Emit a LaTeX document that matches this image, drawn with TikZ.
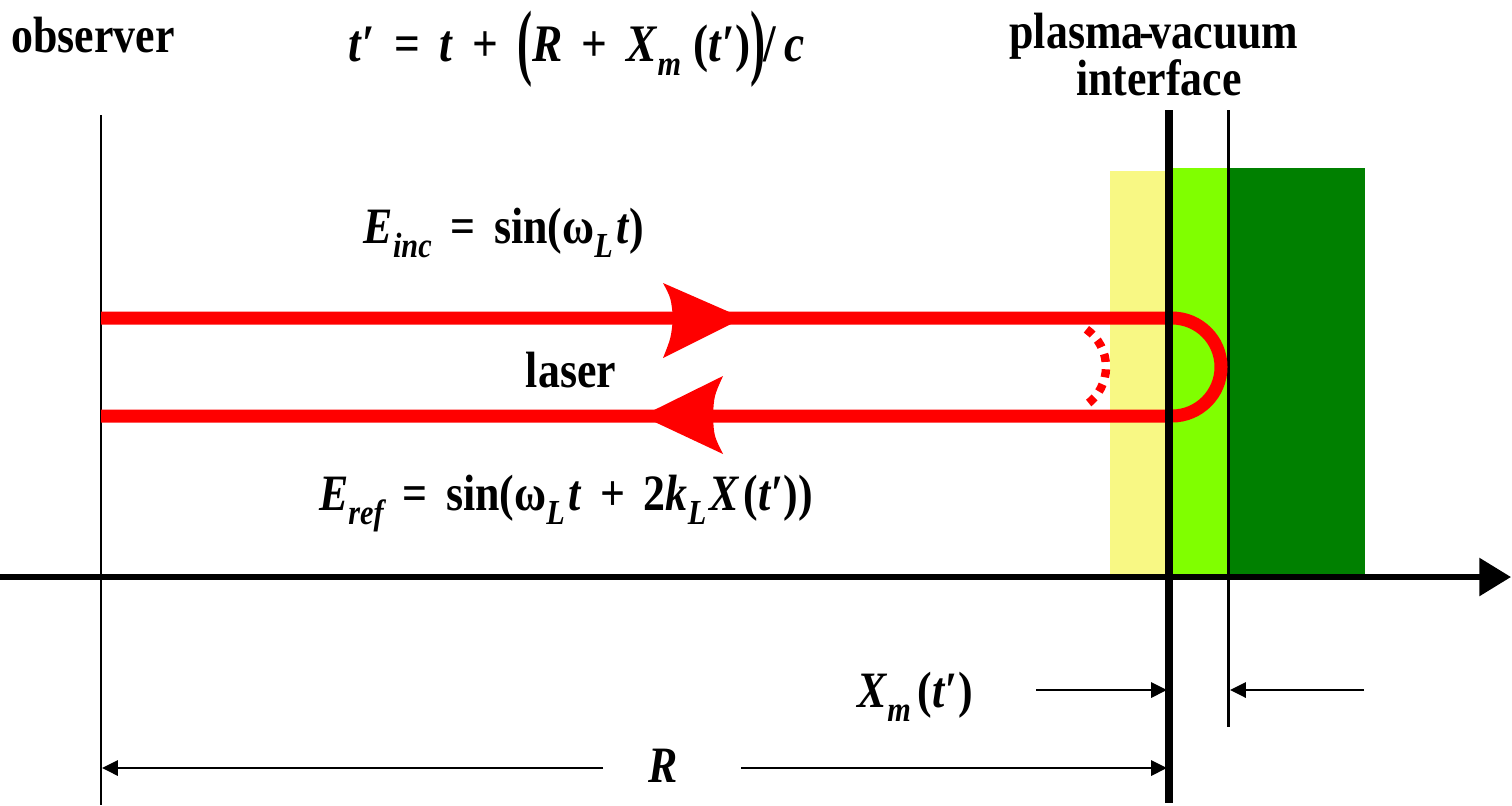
\documentclass[tikz,border=0pt]{standalone}
\usepackage{fontspec}
\setmainfont[FakeStretch=0.86]{Liberation Serif}
\usepackage{graphicx}
\usetikzlibrary{arrows.meta}
\definecolor{vacyellow}{HTML}{F8F884}
\definecolor{lightgr}{HTML}{80FF00}
\definecolor{darkgr}{HTML}{008000}
\definecolor{laserred}{HTML}{FF0000}
\newcommand{\lsub}[1]{\raisebox{-0.6ex}{\fontsize{10}{10}\selectfont\itshape #1}}
\newcommand{\bigp}[1]{\raisebox{-0.35ex}{\scalebox{1}[1.6]{#1}}}
\newcommand{\vv}[1]{\textit{#1}}
\newcommand{\op}[1]{\hspace{2.2pt}#1\hspace{2.2pt}}
\begin{document}
\begin{tikzpicture}[x=0.01cm,y=-0.01cm,
  every node/.style={inner sep=0pt, anchor=base, font=\fontsize{14.5}{17}\selectfont\bfseries},
  eqfont/.style={font=\fontsize{15}{17}\selectfont\bfseries},
  laserline/.style={draw=laserred, line width=3.7pt},
  dimline/.style={line width=0.7pt, -{Triangle[length=4.5pt,width=4.3pt]}},
  axisline/.style={line width=1.7pt, -{Triangle[length=9pt,width=10.5pt]}}]
\useasboundingbox (0,0) rectangle (1512,805);

% media
\fill[vacyellow] (1110,171) rectangle (1169,575);
\fill[lightgr] (1169,168) rectangle (1228,575);
\fill[darkgr] (1228,168) rectangle (1365,575);

% coordinates
\coordinate (obsTop) at (101,115);
\coordinate (obsBot) at (101,805);
\coordinate (ifTop) at (1169,110);
\coordinate (ifBot) at (1169,803);
\coordinate (surfTop) at (1228,110);
\coordinate (surfBot) at (1228,727);
\coordinate (axL) at (0,577);
\coordinate (axR) at (1511,577);

% vertical lines
\draw[line width=0.7pt] (obsTop) -- (obsBot);
\draw[line width=0.85pt] (surfTop) -- (surfBot);

% axis
\draw[axisline] (axL) -- (axR);

% laser
\draw[laserline] (101,318) -- (1172,318)
  .. controls (1199,318) and (1221,340) .. (1221,367)
  .. controls (1221,394) and (1199,416) .. (1172,416) -- (101,416);
\draw[draw=laserred, line width=2.4pt, dash pattern=on 2.3pt off 2.1pt]
  (1086.4,329.3) .. controls (1098.7,337.9) and (1106,352) .. (1106,367)
  .. controls (1106,382) and (1098.7,396.1) .. (1086.4,404.7);
\fill[laserred] (743,318) -- (663,283) .. controls (671,298) .. (673,318)
  .. controls (671,338) .. (663,358) -- cycle;
\fill[laserred] (642,416) -- (723,376) .. controls (714,396) .. (713,416)
  .. controls (714,436) .. (723,454) -- cycle;

% interface line (on top)
\draw[line width=2.5pt] (ifTop) -- (ifBot);

% texts
\node (obs) at (93,52) {observer};
\node[eqfont] (teq) at (577,61) {\vv{t}′ \op{=} \vv{t} \op{+} \bigp{(}\vv{R} \op{+} \vv{X}\lsub{m}\kern1pt\,(\vv{t}′)\bigp{)}\kern-0.5pt/\,\vv{c}};
\node (pv) at (1154,48) {plasma\kern-1.2pt-\kern-1.2pt vacuum};
\node (itf) at (1159,95) {interface};
\node (einc) at (504,243) {\vv{E}\lsub{inc} \op{=} sin(ω\lsub{L}\kern1pt\vv{t})};
\node (laser) at (571,387) {laser};
\node (eref) at (566,510) {\vv{E}\lsub{ref} \op{=} sin(ω\lsub{L}\kern1pt\vv{t} \op{+} 2\vv{k}\lsub{L}\kern1pt\vv{X}\kern1pt(\vv{t}′))};
\node (xm) at (915,707) {\vv{X}\lsub{m}\kern2pt(\vv{t}′)};
\node (rl) at (663,782) {\vv{R}};

% dimension arrows
\coordinate (xmA) at (1036,690);
\coordinate (xmB) at (1167,690);
\coordinate (xmC) at (1364,690);
\coordinate (xmD) at (1230,690);
\coordinate (rA) at (603,768);
\coordinate (rB) at (102,768);
\coordinate (rC) at (741,768);
\coordinate (rD) at (1167,768);
\draw[dimline] (xmA) -- (xmB);
\draw[dimline] (xmC) -- (xmD);
\draw[dimline] (rA) -- (rB);
\draw[dimline] (rC) -- (rD);
\end{tikzpicture}
\end{document}
